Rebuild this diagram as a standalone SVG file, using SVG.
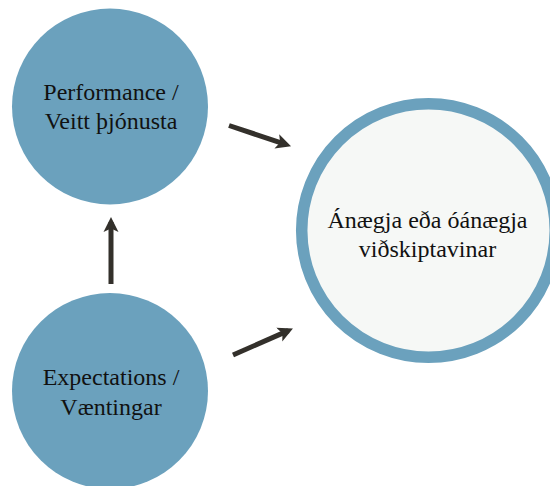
<svg xmlns="http://www.w3.org/2000/svg" width="550" height="486" viewBox="0 0 550 486">
<defs>
<style>
.node{fill:#6BA1BD;}
.main{fill:#F6F8F6;stroke:#6BA1BD;stroke-width:11.5;}
.lbl{font-family:'Liberation Serif','Times New Roman',Times,serif;font-size:24px;fill:#111;text-anchor:middle;}
.arr{stroke:#33302B;stroke-width:5;fill:none;marker-end:url(#ah);}
</style>
<marker id="ah" markerUnits="userSpaceOnUse" markerWidth="16" markerHeight="16" viewBox="0 0 16 16" refX="10" refY="8" orient="auto">
<path d="M0,0.5 L15,8 L0,15.5 L3.5,8 z" fill="#33302B"/>
</marker>
</defs>
<rect width="550" height="486" fill="#ffffff"/>
<g id="performance">
<circle class="node" cx="110" cy="106.5" r="98"/>
<text class="lbl" x="111" y="100">Performance /</text>
<text class="lbl" x="111" y="129">Veitt þjónusta</text>
</g>
<g id="expectations">
<circle class="node" cx="110" cy="391" r="98"/>
<text class="lbl" x="111" y="385">Expectations /</text>
<text class="lbl" x="111" y="415">Væntingar</text>
</g>
<g id="satisfaction">
<circle class="main" cx="428.5" cy="230.5" r="126.8"/>
<text class="lbl" x="427.5" y="228">Ánægja eða óánægja</text>
<text class="lbl" x="427.5" y="257">viðskiptavinar</text>
</g>
<g id="connectors">
<line class="arr" x1="111" y1="284" x2="111" y2="222"/>
<line class="arr" x1="229" y1="125.5" x2="286.3" y2="144.6"/>
<line class="arr" x1="233" y1="355" x2="288.4" y2="330.6"/>
</g>
</svg>
